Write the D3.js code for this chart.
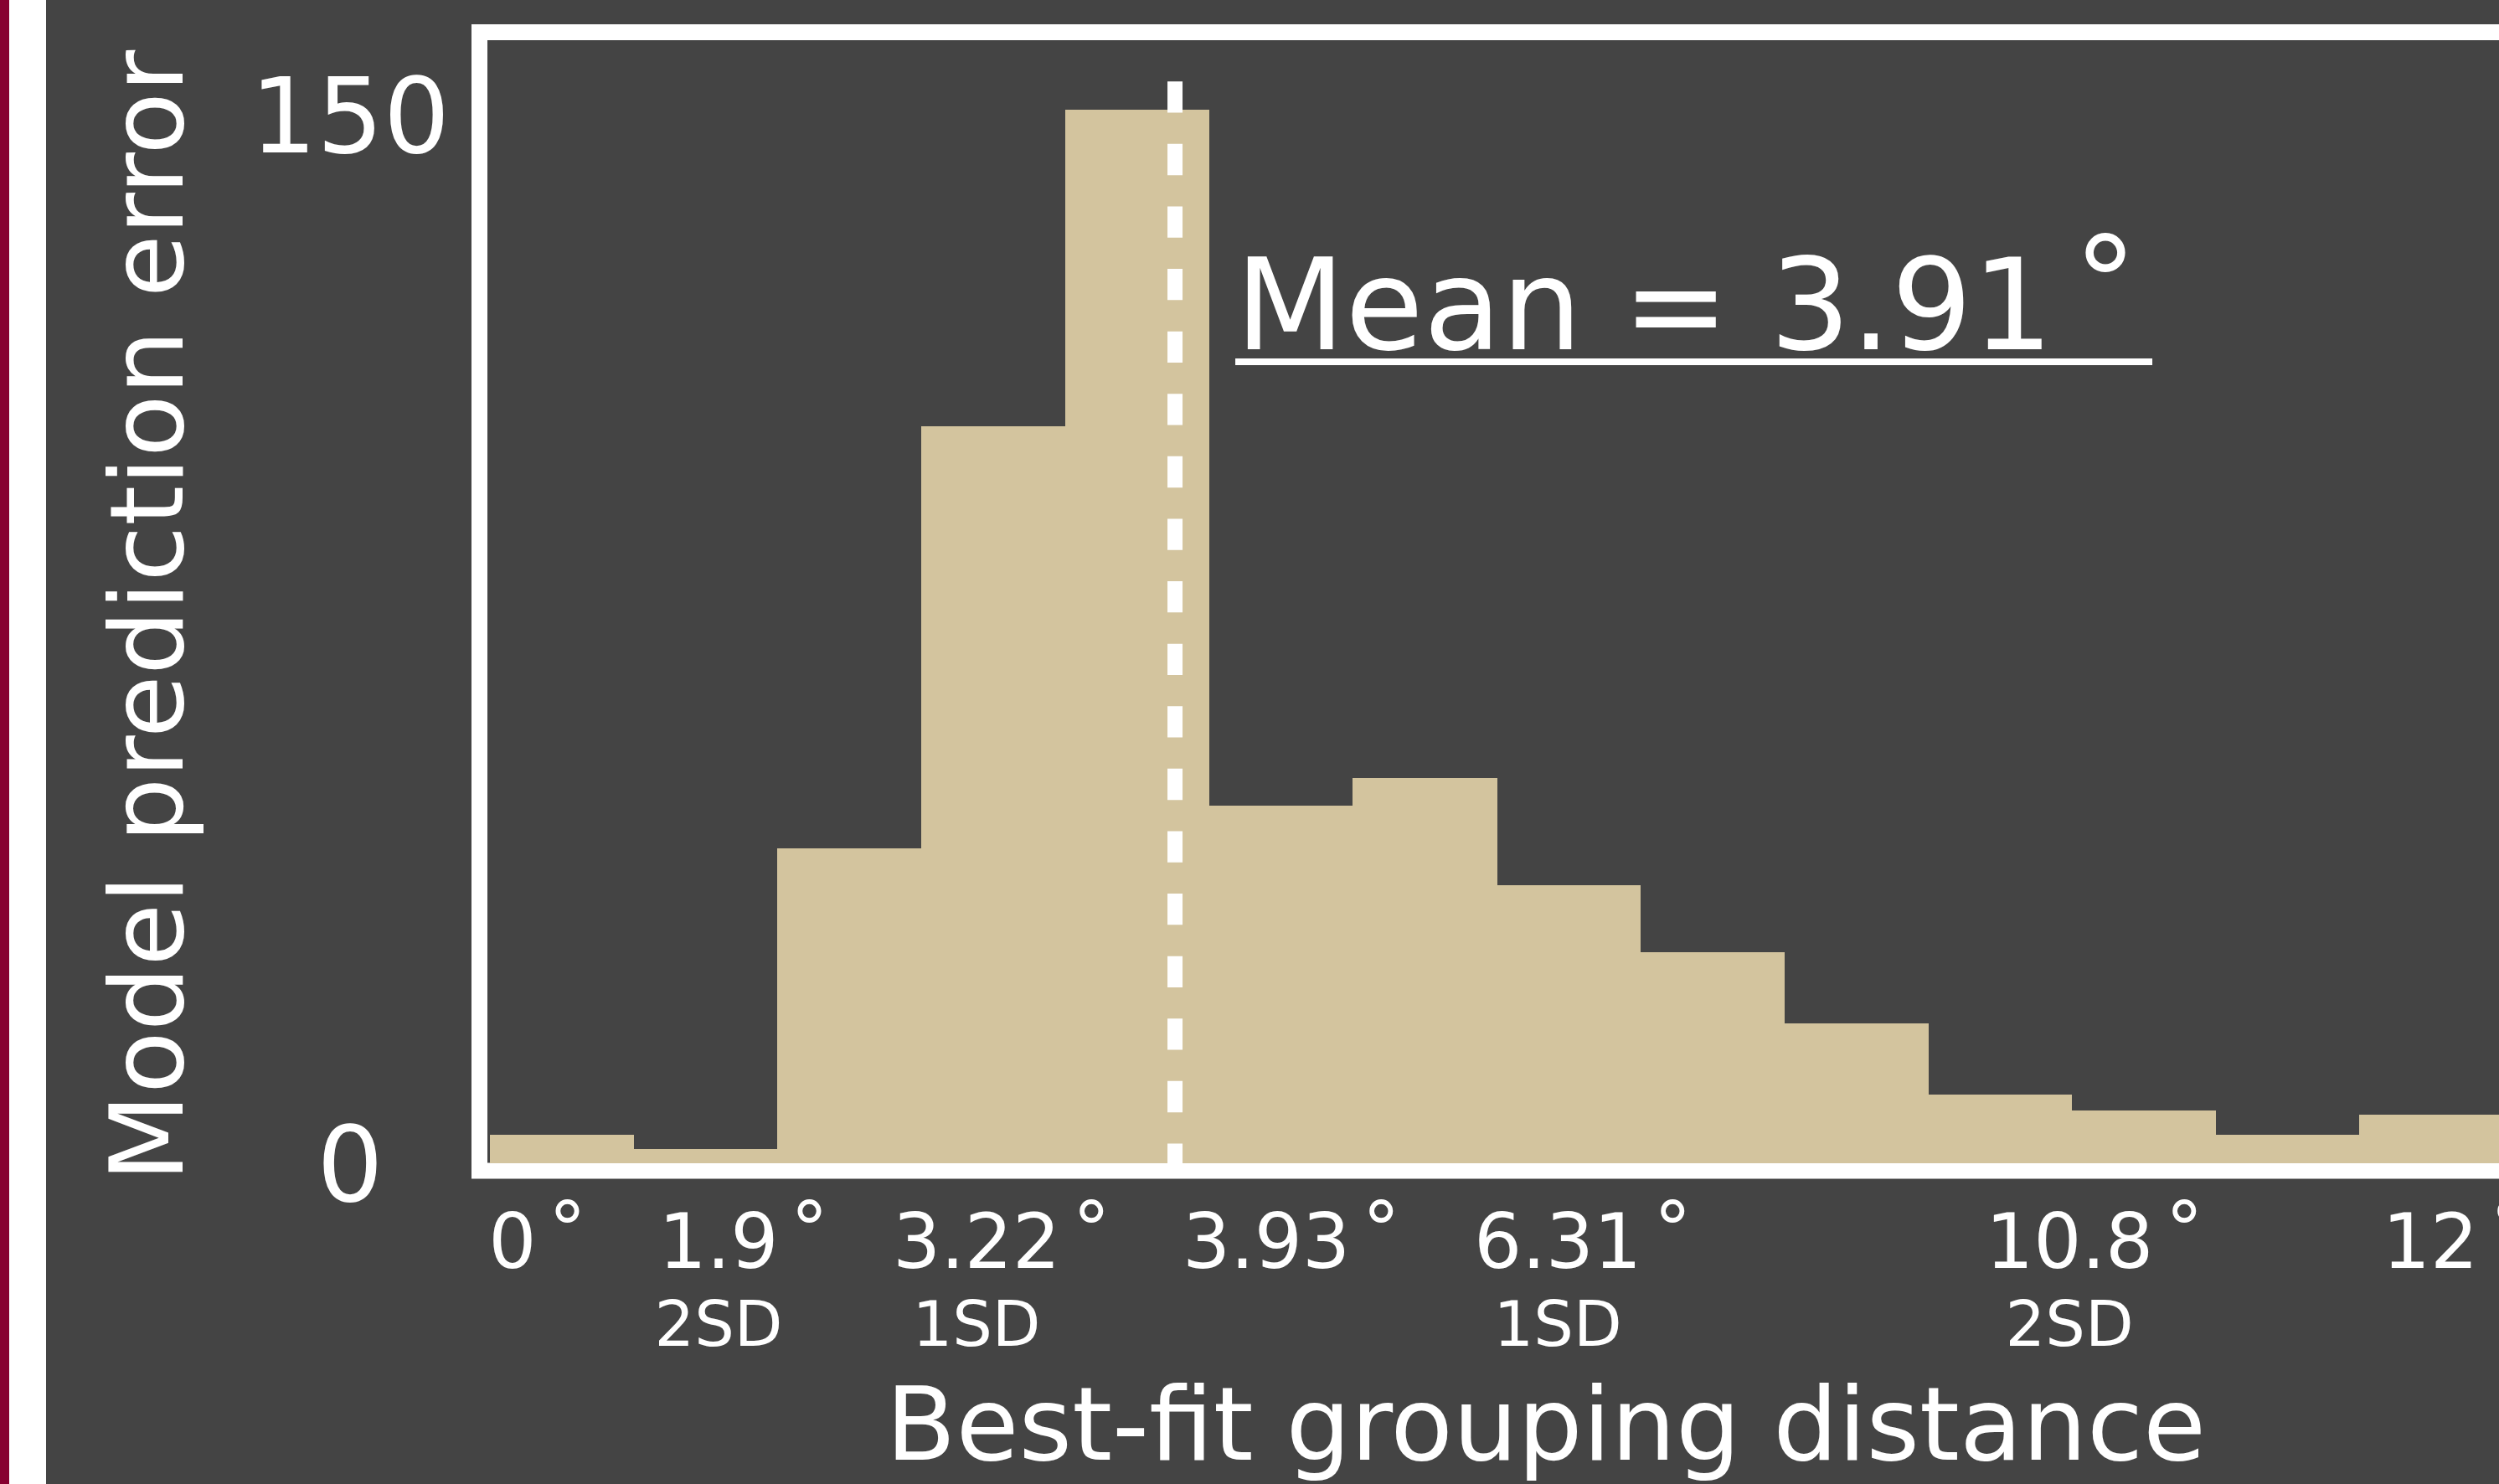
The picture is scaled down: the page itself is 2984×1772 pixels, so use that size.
<!DOCTYPE html>
<html>
<head>
<meta charset="utf-8">
<script src="https://cdn.jsdelivr.net/npm/d3@7/dist/d3.min.js"></script>
<style>
  body { margin: 0; background: #444444; }
  text { font-family: "DejaVu Sans", sans-serif; fill: #ffffff; }
</style>
</head>
<body>
<div id="chart"></div>
<script>
// histogram heights, one per bin
var counts = [4.1, 2.0, 45.0, 105.5, 150.8, 51.2, 55.1, 39.8, 30.2, 20.0, 9.8, 7.6, 4.1, 7.0];
// x ticks, in bin units
var xTickPos = [0.157, 1.59, 3.384, 5.399, 7.426, 10.984, 13.494];
var xTickLabels = ["0", "1.9", "3.22", "3.93", "6.31", "10.8", "12"];
var sdLabels = ["", "2SD", "1SD", "", "1SD", "2SD", ""];
var yTicks = [0, 150];
var meanBin = 4.764, meanTop = 154.8, meanLabel = "Mean = 3.91";

var w = 2984, h = 1772;

var svg = d3.select("#chart").append("svg")
  .attr("width", w)
  .attr("height", h);

svg.append("rect").attr("width", w).attr("height", h).attr("fill", "#444444");

// side strips
svg.append("rect").attr("x", 0).attr("y", 0).attr("width", 11).attr("height", h).attr("fill", "#870030");
svg.append("rect").attr("x", 11).attr("y", 0).attr("width", 44).attr("height", h).attr("fill", "#ffffff");

var x = d3.scaleLinear().domain([0, 14]).range([585, 2989]);
var y = d3.scaleLinear().domain([0, 160.7]).range([1389, 48]);

// frame
svg.append("rect")
  .attr("x", 572.5)
  .attr("y", 38.5)
  .attr("width", 3000)
  .attr("height", 1359.5)
  .attr("fill", "none")
  .attr("stroke", "#ffffff")
  .attr("stroke-width", 19);

// bars
svg.append("g").selectAll("rect")
  .data(counts)
  .enter().append("rect")
    .attr("x", function(d, i){ return x(i); })
    .attr("width", function(d, i){ return x(i + 1) - x(i) + 0.5; })
    .attr("y", function(d){ return y(d); })
    .attr("height", function(d){ return y(0) - y(d); })
    .attr("fill", "#d3c49e")
    .attr("shape-rendering", "crispEdges");

// mean line
svg.append("line")
  .attr("x1", x(meanBin)).attr("x2", x(meanBin))
  .attr("y1", y(meanTop)).attr("y2", y(0))
  .attr("stroke", "#ffffff")
  .attr("stroke-width", 18)
  .attr("stroke-dasharray", "37.3,37.3");

// number + raised degree ring, number centred on cx
function degText(cx, by, str, size, anchorStart) {
  var t = svg.append("text").attr("y", by).attr("font-size", size);
  var num = t.append("tspan").text(str);
  t.append("tspan").attr("dx", 0.16 * size).attr("dy", -0.17 * size).text("°");
  var len = num.node().getComputedTextLength();
  t.attr("x", anchorStart ? cx : cx - len / 2);
  return t;
}

// x tick labels
xTickPos.forEach(function(p, i){
  degText(x(p), 1514, xTickLabels[i], 90, false);
  if (sdLabels[i] != "") {
    svg.append("text")
      .attr("x", x(p))
      .attr("y", 1607)
      .attr("font-size", 75)
      .attr("text-anchor", "middle")
      .text(sdLabels[i]);
  }
});

// y tick labels
svg.append("g").selectAll("text")
  .data(yTicks)
  .enter().append("text")
    .attr("x", 418)
    .attr("y", function(d){ return y(d); })
    .attr("dy", "0.36em")
    .attr("font-size", 125)
    .attr("text-anchor", "middle")
    .text(function(d){ return d; });

// axis titles
svg.append("text")
  .attr("transform", "translate(218,735.5) rotate(-90)")
  .attr("font-size", 122)
  .attr("text-anchor", "middle")
  .text("Model prediction error");

svg.append("text")
  .attr("x", 1846)
  .attr("y", 1743)
  .attr("font-size", 122)
  .attr("text-anchor", "middle")
  .text("Best-fit grouping distance");

// mean annotation
var mx = x(meanBin) + 72;
degText(mx, 417, meanLabel, 152, true);
svg.append("line")
  .attr("x1", mx).attr("x2", mx + 1095)
  .attr("y1", 432).attr("y2", 432)
  .attr("stroke", "#ffffff")
  .attr("stroke-width", 8);
</script>
</body>
</html>
